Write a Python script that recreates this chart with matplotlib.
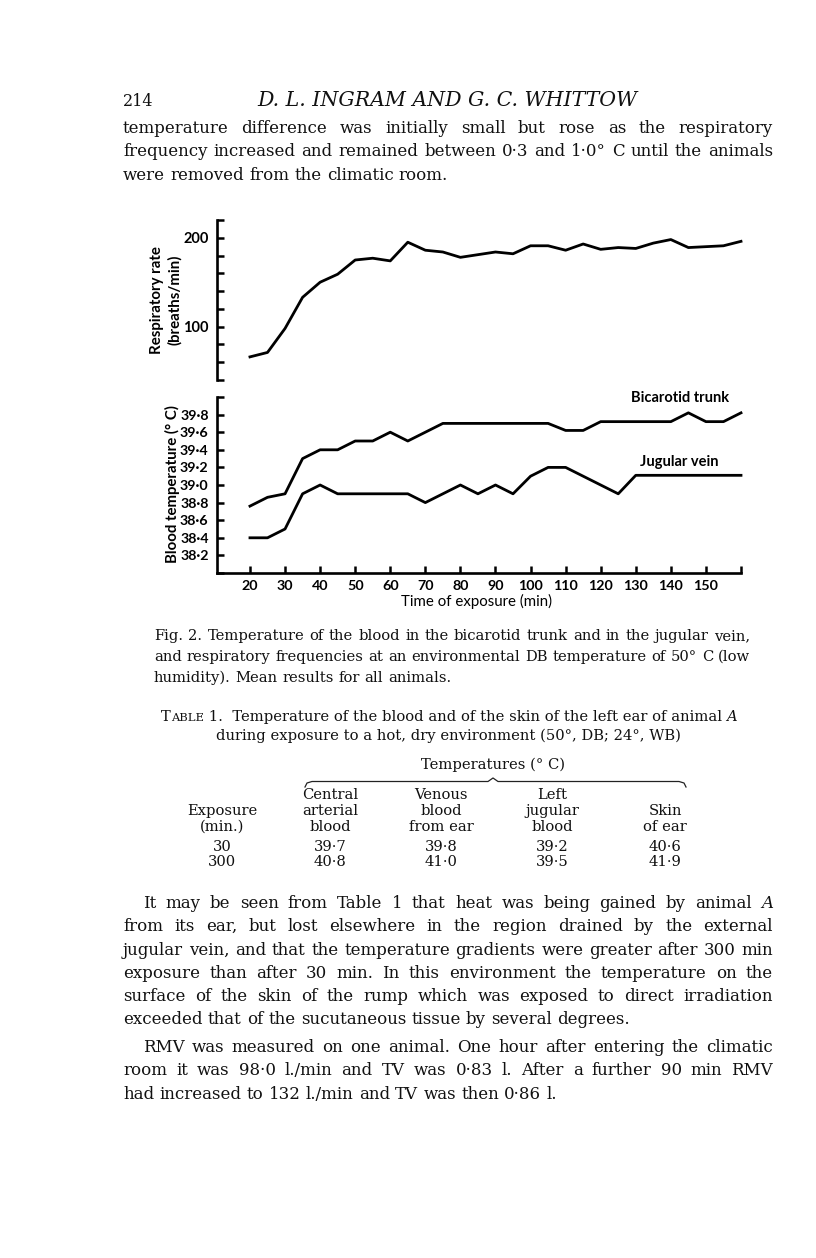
import matplotlib
matplotlib.use("Agg")
import matplotlib.pyplot as plt
from matplotlib.lines import Line2D
import numpy as np

W, H, DPI = 816, 1258, 100

# ---------------- data ----------------
time_min = [20, 25, 30, 35, 40, 45, 50, 55, 60, 65, 70, 75, 80, 85, 90, 95, 100,
            105, 110, 115, 120, 125, 130, 135, 140, 145, 150, 155, 160]
resp_rate = [66, 71, 98, 133, 150, 159, 175, 177, 174, 195, 186, 184, 178, 181,
             184, 182, 191, 191, 186, 193, 187, 189, 188, 194, 198, 189, 190, 191, 196]
bicarotid = [38.76, 38.86, 38.90, 39.30, 39.40, 39.40, 39.50, 39.50, 39.60, 39.50,
             39.60, 39.70, 39.70, 39.70, 39.70, 39.70, 39.70, 39.70, 39.62, 39.62,
             39.72, 39.72, 39.72, 39.72, 39.72, 39.82, 39.72, 39.72, 39.82]
jugular = [38.40, 38.40, 38.50, 38.90, 39.00, 38.90, 38.90, 38.90, 38.90, 38.90,
           38.80, 38.90, 39.00, 38.90, 39.00, 38.90, 39.10, 39.20, 39.20, 39.10,
           39.00, 38.90, 39.11, 39.11, 39.11, 39.11, 39.11, 39.11, 39.11]

resp_ticks = [40, 60, 80, 100, 120, 140, 160, 180, 200, 220]
resp_tick_labels = ['', '', '', '100', '', '', '', '', '200', '']
temp_ticks = [38.0, 38.2, 38.4, 38.6, 38.8, 39.0, 39.2, 39.4, 39.6, 39.8, 40.0]
temp_tick_labels = ['', '38·2', '38·4', '38·6', '38·8', '39·0', '39·2', '39·4',
                    '39·6', '39·8', '']
time_ticks = [20, 30, 40, 50, 60, 70, 80, 90, 100, 110, 120, 130, 140, 150, 160]
time_tick_labels = ['20', '30', '40', '50', '60', '70', '80', '90', '100', '110',
                    '120', '130', '140', '150', '']

table_headers = [["Exposure", "(min.)"],
                 ["Central", "arterial", "blood"],
                 ["Venous", "blood", "from ear"],
                 ["Left", "jugular", "blood"],
                 ["Skin", "of ear"]]
table_rows = [["30", "39·7", "39·8", "39·2", "40·6"],
              ["300", "40·8", "41·0", "39·5", "41·9"]]

header_page = "214"
header_authors = "D. L. INGRAM AND G. C. WHITTOW"
para_top = ["temperature difference was initially small but rose as the respiratory",
            "frequency increased and remained between 0·3 and 1·0° C until the animals",
            "were removed from the climatic room."]
caption = ["Fig. 2.  Temperature of the blood in the bicarotid trunk and in the jugular vein,",
           "and respiratory frequencies at an environmental DB temperature of 50° C (low",
           "humidity).  Mean results for all animals."]
para_a = ["It may be seen from Table 1 that heat was being gained by animal _A",
          "from its ear, but lost elsewhere in the region drained by the external",
          "jugular vein, and that the temperature gradients were greater after 300 min",
          "exposure than after 30 min. In this environment the temperature on the",
          "surface of the skin of the rump which was exposed to direct irradiation",
          "exceeded that of the sucutaneous tissue by several degrees."]
para_b = ["RMV was measured on one animal. One hour after entering the climatic",
          "room it was 98·0 l./min and TV was 0·83 l. After a further 90 min RMV",
          "had increased to 132 l./min and TV was then 0·86 l."]

# ---------------- figure ----------------
fig = plt.figure(figsize=(W / DPI, H / DPI), dpi=DPI)
fig.patch.set_facecolor('white')
R = fig.canvas.get_renderer()
SERIF = ['DejaVu Serif']
SANS = ['Lato', 'DejaVu Sans']
INK = '#111111'


def P(x, y):
    return (x / W, 1 - y / H)


def T(x, y, s, **kw):
    return fig.text(x / W, 1 - y / H, s, **kw)


def wid(t):
    return t.get_window_extent(R).width


def natural_width(line, size):
    t = T(0, 0, line.replace('_', ''), fontsize=size, family=SERIF)
    w = wid(t)
    t.remove()
    return w


def space_w(size, family=SERIF):
    a = T(0, 0, 'n n', fontsize=size, family=family)
    b = T(0, 0, 'nn', fontsize=size, family=family)
    d = wid(a) - wid(b)
    a.remove(); b.remove()
    return d


def fit_size(lines_with_width, ref=10.0):
    # font size so that the widest natural line just fills its measure
    ratios = [width / natural_width(ln, ref) for ln, width in lines_with_width]
    return ref * min(ratios) * 0.995


def line_words(line, x0, x1, yb, size, justify=True):
    words = line.split(' ')
    ts = []
    for w in words:
        style = 'normal'
        if w.startswith('_'):
            w = w[1:]
            style = 'italic'
        if w == '':
            continue
        ts.append(T(0, yb, w, fontsize=size, family=SERIF, style=style,
                    va='baseline', ha='left', color=INK))
    ws = [wid(t) for t in ts]
    if justify and len(ts) > 1:
        gap = (x1 - x0 - sum(ws)) / (len(ts) - 1)
    else:
        gap = space_w(size)
    x = x0
    for t, w in zip(ts, ws):
        t.set_position(P(x, yb))
        x += w + gap


def paragraph(lines, x0, x1, y0, dy, size, indent=0):
    for i, ln in enumerate(lines):
        last = (i == len(lines) - 1)
        xs = x0 + (indent if i == 0 else 0)
        line_words(ln, xs, x1, y0 + i * dy, size, justify=not last)


def fit(x0, x1, yb, s, family=SERIF, style='normal', weight='normal'):
    t = T(x0, yb, s, fontsize=10, family=family, style=style, va='baseline',
          ha='left', weight=weight, color=INK)
    w = wid(t)
    t.set_fontsize(10 * (x1 - x0) / w)
    return t


LM, RM, IND = 123, 773, 20

# body font size from the justified lines
body_lines = []
for para in (para_top, para_a, para_b):
    for i, ln in enumerate(para[:-1]):
        body_lines.append((ln, RM - LM - (IND if (i == 0 and para is not para_top) else 0)))
BODY = fit_size(body_lines)

CAP_L, CAP_R = 154, 750
CAP = fit_size([(ln, CAP_R - CAP_L) for ln in caption[:-1]])

# header
T(123, 106, header_page, fontsize=11.5, family=SERIF, va='baseline', color=INK)
fit(257, 637, 106, header_authors, style='italic')

# top paragraph
paragraph(para_top, LM, RM, 133, 23.3, BODY)

# ---------------- chart ----------------
left, right = 217, 741
ax1 = fig.add_axes([left / W, 1 - 380 / H, (right - left) / W, 160 / H])
ax2 = fig.add_axes([left / W, 1 - 573 / H, (right - left) / W, 176 / H])
XMIN, XMAX = 10.6, 160

for ax in (ax1, ax2):
    ax.set_facecolor('none')
    ax.spines['top'].set_visible(False)
    ax.spines['right'].set_visible(False)
    for s in ax.spines.values():
        s.set_linewidth(1.9)
    ax.set_xlim(XMIN, XMAX)

ax1.spines['bottom'].set_visible(False)
ax1.plot(time_min, resp_rate, color='black', lw=2.0, clip_on=False)
ax1.set_ylim(40, 220)
ax1.set_yticks(resp_ticks)
ax1.set_yticklabels(resp_tick_labels)
ax1.set_xticks([])
ax1.tick_params(axis='y', direction='in', length=5, width=1.8, pad=6, labelsize=10.5)

ax2.plot(time_min, bicarotid, color='black', lw=2.0, clip_on=False)
ax2.plot(time_min, jugular, color='black', lw=2.0, clip_on=False)
ax2.set_ylim(38.0, 40.0)
ax2.set_yticks(temp_ticks)
ax2.set_yticklabels(temp_tick_labels)
ax2.set_xticks(time_ticks)
ax2.set_xticklabels(time_tick_labels)
ax2.tick_params(axis='y', direction='in', length=5, width=1.8, pad=6, labelsize=10.3)
ax2.tick_params(axis='x', direction='in', length=5, width=1.8, pad=5, labelsize=10.3)

for ax in (ax1, ax2):
    for lab in ax.get_xticklabels() + ax.get_yticklabels():
        lab.set_family(SANS)
        lab.set_weight('bold')

ax2.text(142.7, 39.99, 'Bicarotid trunk', ha='center', va='center', fontsize=10.5,
         family=SANS, weight='bold', clip_on=False)
ax2.text(142.4, 39.26, 'Jugular vein', ha='center', va='center', fontsize=10.5,
         family=SANS, weight='bold', clip_on=False)

T(166, 300, 'Respiratory rate\n(breaths/min)', rotation=90, ha='center', va='center',
  fontsize=10.8, family=SANS, weight='bold', linespacing=1.25, multialignment='center')
T(172, 484, 'Blood temperature (° C)', rotation=90, ha='center', va='center',
  fontsize=10.8, family=SANS, weight='bold')
T(476, 601, 'Time of exposure (min)', ha='center', va='center', fontsize=10.8,
  family=SANS)

# caption
paragraph(caption, CAP_L, CAP_R, 640, 21, CAP)

# ---------------- table ----------------
tsz = CAP
seg_T = T(161, 721, 'T', fontsize=tsz, family=SERIF, va='baseline', color=INK)
x = 161 + wid(seg_T)
seg_A = T(x, 721, 'ABLE', fontsize=tsz * 0.78, family=SERIF, va='baseline', color=INK)
x += wid(seg_A)
seg_rest = T(x, 721, ' 1.  Temperature of the blood and of the skin of the left ear of animal',
             fontsize=tsz, family=SERIF, va='baseline', color=INK)
x += wid(seg_rest) + space_w(tsz)
T(x, 721, 'A', fontsize=tsz, family=SERIF, style='italic', va='baseline', color=INK)
T(448, 740, 'during exposure to a hot, dry environment (50°, DB; 24°, WB)', ha='center',
  fontsize=tsz, family=SERIF, va='baseline', color=INK)
T(493, 769, 'Temperatures (° C)', ha='center', fontsize=tsz, family=SERIF,
  va='baseline', color=INK)

# brace over the temperature columns
bx = [305, 307, 312, 488, 493, 498, 679, 684, 686]
by = [787, 783, 781.5, 781.5, 778, 781.5, 781.5, 783, 787]
fig.add_artist(Line2D([v / W for v in bx], [1 - v / H for v in by], color='#222222',
                      lw=0.9, transform=fig.transFigure))

col_x = [222, 330, 441, 552, 665]
header_rows_y = [799, 815, 831]
for cx, hdr in zip(col_x, table_headers):
    n = len(hdr)
    for k, s in enumerate(hdr):
        yb = header_rows_y[3 - n + k]
        T(cx, yb, s, ha='center', fontsize=tsz, family=SERIF, va='baseline', color=INK)
row_y = [851, 866]
for ry, row in zip(row_y, table_rows):
    for cx, s in zip(col_x, row):
        T(cx, ry, s, ha='center', fontsize=tsz, family=SERIF, va='baseline', color=INK)

# lower paragraphs
paragraph(para_a, LM, RM, 908, 23.3, BODY, indent=IND)
paragraph(para_b, LM, RM, 1052, 23.3, BODY, indent=IND)

fig.savefig('out.png', dpi=DPI, facecolor='white')
